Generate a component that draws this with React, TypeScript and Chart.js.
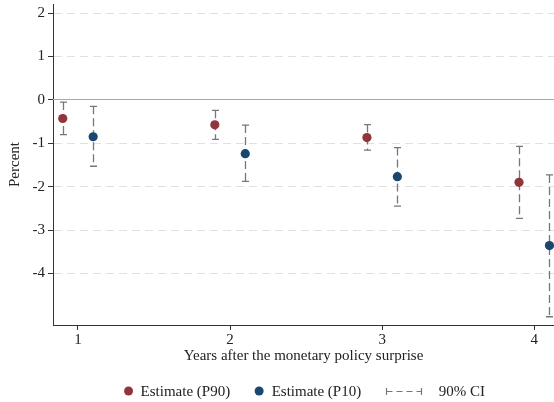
import React, { useEffect, useRef } from "react";
import { Chart, registerables } from "chart.js";

Chart.register(...registerables);

// ---- data ----
const years = [1, 2, 3, 4];
const p90Est = [-0.43, -0.575, -0.87, -1.9];
const p90Lo = [-0.8, -0.91, -1.16, -2.73];
const p90Hi = [-0.05, -0.24, -0.57, -1.07];
const p10Est = [-0.85, -1.24, -1.77, -3.36];
const p10Lo = [-1.53, -1.88, -2.45, -5.0];
const p10Hi = [-0.15, -0.58, -1.1, -1.73];
const yTicks = [-4, -3, -2, -1, 0, 1, 2];
const xTicks = [1, 2, 3, 4];
const legendLabels = ["Estimate (P90)", "Estimate (P10)", "90% CI"];
const xTitle = "Years after the monetary policy surprise";
const yTitle = "Percent";

const RED = "#90353b";
const BLUE = "#1a476f";
const CI_COLOR = "#777777";
const FONT = "'Liberation Serif', 'Times New Roman', serif";
const FS = 15;
const OFFSET = 0.1;

const errorBarPlugin = {
  id: "errorBars",
  beforeDatasetsDraw(chart: any) {
    const { ctx, scales } = chart;
    const x = scales.x;
    const y = scales.y;
    const area = chart.chartArea;
    // zero line
    ctx.save();
    ctx.strokeStyle = "#a8a8a8";
    ctx.lineWidth = 1;
    ctx.beginPath();
    const y0 = Math.floor(y.getPixelForValue(0)) + 0.5;
    ctx.moveTo(area.left, y0);
    ctx.lineTo(area.right, y0);
    ctx.stroke();
    ctx.restore();

    const sets = [
      { lo: p90Lo, hi: p90Hi, off: -OFFSET },
      { lo: p10Lo, hi: p10Hi, off: OFFSET },
    ];
    ctx.save();
    ctx.strokeStyle = CI_COLOR;
    ctx.lineWidth = 1.3;
    sets.forEach((s) => {
      years.forEach((yr, i) => {
        const px = Math.round(x.getPixelForValue(yr + s.off)) + 0.5;
        const pLo = y.getPixelForValue(s.lo[i]);
        const pHi = y.getPixelForValue(s.hi[i]);
        ctx.setLineDash([8, 4]);
        ctx.beginPath();
        ctx.moveTo(px, pHi);
        ctx.lineTo(px, pLo);
        ctx.stroke();
        ctx.setLineDash([]);
        ctx.beginPath();
        ctx.moveTo(px - 3.5, pHi);
        ctx.lineTo(px + 3.5, pHi);
        ctx.moveTo(px - 3.5, pLo);
        ctx.lineTo(px + 3.5, pLo);
        ctx.stroke();
      });
    });
    ctx.restore();
  },
};

const legendPlugin = {
  id: "customLegend",
  afterDraw(chart: any) {
    const { ctx } = chart;
    const area = chart.chartArea;
    const cy = 391;
    ctx.save();
    ctx.font = `${FS}px ${FONT}`;
    ctx.textBaseline = "middle";
    ctx.fillStyle = "#222";
    const w = legendLabels.map((l) => ctx.measureText(l).width);
    const markerW = [9, 9, 35];
    const gapAfterMarker = [7.5, 8, 18];
    const between = 24.5;
    let total = 0;
    for (let i = 0; i < 3; i++) total += markerW[i] + gapAfterMarker[i] + w[i];
    total += between * 2;
    let xPos = (area.left + area.right) / 2 + 1 - total / 2;
    for (let i = 0; i < 3; i++) {
      if (i < 2) {
        ctx.beginPath();
        ctx.fillStyle = i === 0 ? RED : BLUE;
        ctx.arc(xPos + 4.5, cy, 4.5, 0, Math.PI * 2);
        ctx.fill();
      } else {
        ctx.strokeStyle = CI_COLOR;
        ctx.lineWidth = 1.2;
        const x0 = Math.round(xPos) + 0.5;
        const x1 = Math.round(xPos + markerW[2]) + 0.5;
        const yy = Math.round(cy) + 0.5;
        ctx.beginPath();
        ctx.moveTo(x0, yy - 3.5);
        ctx.lineTo(x0, yy + 3.5);
        ctx.moveTo(x1, yy - 3.5);
        ctx.lineTo(x1, yy + 3.5);
        ctx.stroke();
        ctx.setLineDash([6, 4]);
        ctx.beginPath();
        ctx.moveTo(x0, yy);
        ctx.lineTo(x1, yy);
        ctx.stroke();
        ctx.setLineDash([]);
      }
      xPos += markerW[i] + gapAfterMarker[i];
      ctx.fillStyle = "#222";
      ctx.fillText(legendLabels[i], xPos, cy + 1);
      xPos += w[i] + between;
    }
    ctx.restore();
  },
};

export default function App() {
  const ref = useRef<HTMLCanvasElement | null>(null);
  useEffect(() => {
    document.body.style.margin = "0";
    const canvas = ref.current;
    if (!canvas) return;
    const chart = new Chart(canvas, {
      type: "scatter",
      data: {
        datasets: [
          {
            label: legendLabels[0],
            data: years.map((yr, i) => ({ x: yr - OFFSET, y: p90Est[i] })),
            backgroundColor: RED,
            borderColor: RED,
            pointRadius: 4.6,
            borderWidth: 0,
          },
          {
            label: legendLabels[1],
            data: years.map((yr, i) => ({ x: yr + OFFSET, y: p10Est[i] })),
            backgroundColor: BLUE,
            borderColor: BLUE,
            pointRadius: 4.6,
            borderWidth: 0,
          },
        ],
      },
      options: {
        responsive: false,
        animation: false,
        layout: { autoPadding: false, padding: { top: 4, right: 0, bottom: 32, left: 0 } },
        plugins: {
          legend: { display: false },
          tooltip: { enabled: false },
        },
        scales: {
          x: {
            type: "linear",
            min: 0.836,
            max: 4.13,
            afterBuildTicks: (s: any) => {
              s.ticks = xTicks.map((v) => ({ value: v }));
            },
            afterFit: (s: any) => {
              s.height = 45;
              s.paddingLeft = 0;
              s.paddingRight = 0;
            },
            grid: {
              drawOnChartArea: false,
              drawTicks: true,
              tickLength: 5,
              tickColor: "#333",
            },
            border: { display: true, color: "#333", width: 1 },
            ticks: {
              padding: 1,
              color: "#222",
              font: { family: FONT, size: FS },
              maxRotation: 0,
            },
            title: {
              display: true,
              text: xTitle,
              color: "#222",
              font: { family: FONT, size: FS },
              padding: { top: 0, bottom: 5 },
            },
          },
          y: {
            type: "linear",
            min: -5.19,
            max: 2.21,
            afterBuildTicks: (s: any) => {
              s.ticks = yTicks.map((v) => ({ value: v }));
            },
            afterFit: (s: any) => {
              s.width = 53;
              s.paddingTop = 0;
              s.paddingBottom = 0;
            },
            grid: {
              color: (c: any) => (c.tick && c.tick.value === 0 ? "rgba(0,0,0,0)" : "#e0e0e0"),
              lineWidth: 1,
              drawTicks: true,
              tickLength: 5,
              tickColor: "#333",
            },
            border: { display: true, color: "#333", width: 1, dash: [8, 5] },
            ticks: {
              padding: 3,
              color: "#222",
              font: { family: FONT, size: FS },
              callback: (v: any) => String(v),
            },
            title: {
              display: true,
              text: yTitle,
              color: "#222",
              font: { family: FONT, size: FS },
              padding: { top: 6, bottom: 6 },
            },
          },
        },
      },
      plugins: [errorBarPlugin, legendPlugin],
    });
    return () => chart.destroy();
  }, []);
  return (
    <div style={{ width: 554, height: 402 }}>
      <canvas ref={ref} width={554} height={402} style={{ display: "block" }} />
    </div>
  );
}
